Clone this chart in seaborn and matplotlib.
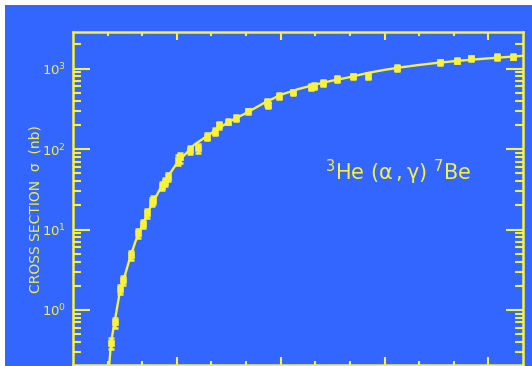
import matplotlib
matplotlib.use("Agg")
import matplotlib.pyplot as plt
import seaborn as sns
import pandas as pd
from matplotlib.ticker import FixedLocator, NullFormatter, LogLocator
from matplotlib.patches import Rectangle

# ---- data ----
energy = [0.109, 0.121, 0.136, 0.145, 0.167, 0.189, 0.201, 0.213, 0.227, 0.232,
          0.256, 0.266, 0.275, 0.304, 0.309, 0.338, 0.362, 0.386, 0.410, 0.423,
          0.449, 0.471, 0.506, 0.559, 0.564, 0.596, 0.636, 0.687, 0.696, 0.723,
          0.763, 0.808, 0.853, 0.937, 1.060, 1.110, 1.149, 1.226, 1.272]
sigma = [0.385, 0.70, 1.8, 2.36, 4.8, 9.0, 11.7, 15.9, 22.0, 23.3,
         34.8, 39.4, 45.5, 73.5, 79.0, 97.8, 102.0, 143.0, 165.0, 200.0,
         220.0, 242.0, 293.0, 380.0, 355.0, 459.0, 505.0, 589.0, 611.0, 661.0,
         740.0, 798.0, 813.0, 1014.0, 1191.0, 1259.0, 1336.0, 1390.0, 1413.0]
rel_err = [0.15, 0.14, 0.13, 0.13, 0.12, 0.12, 0.12, 0.12, 0.12, 0.12,
           0.12, 0.12, 0.12, 0.14, 0.14, 0.12, 0.12, 0.10, 0.10, 0.10,
           0.08, 0.08, 0.08, 0.09, 0.09, 0.08, 0.08, 0.08, 0.08, 0.08,
           0.08, 0.08, 0.09, 0.09, 0.08, 0.08, 0.08, 0.08, 0.08]

curve_e = [0.103, 0.11, 0.12, 0.135, 0.15, 0.165, 0.18, 0.20, 0.225, 0.25,
           0.275, 0.30, 0.35, 0.40, 0.45, 0.50, 0.55, 0.60, 0.65, 0.70,
           0.75, 0.80, 0.85, 0.90, 0.95, 1.00, 1.05, 1.10, 1.15, 1.20, 1.25, 1.30]
curve_s = [0.17, 0.40, 0.70, 1.65, 2.7, 4.5, 7.0, 11.4, 19.5, 31.0,
           46.0, 66.7, 113.0, 158.0, 218.0, 280.0, 370.0, 472.0, 555.0, 633.0,
           710.0, 784.0, 880.0, 965.0, 1040.0, 1110.0, 1175.0, 1235.0, 1290.0, 1340.0, 1390.0, 1440.0]

ytick_vals = [1, 10, 100, 1000]
ytick_labels = ["$10^{0}$", "$10^{1}$", "$10^{2}$", "$10^{3}$"]
ylabel = "CROSS SECTION  \u03c3  (nb)"
annot = r"$^{3}$He $(\alpha\,,\gamma)$ $^{7}$Be"

BLUE = "#3366FF"
YEL = "#F8F23C"

pts = pd.DataFrame({"E": energy, "sigma": sigma, "err": [s * r for s, r in zip(sigma, rel_err)]})
cur = pd.DataFrame({"E": curve_e, "sigma": curve_s})

sns.set_style("ticks")
plt.rcParams["font.family"] = ["DejaVu Sans"]
plt.rcParams["mathtext.fontset"] = "dejavusans"
plt.rcParams["mathtext.default"] = "regular"

fig = plt.figure(figsize=(5.32, 3.66), dpi=100, facecolor="white")
fig.patches.append(Rectangle((5 / 532, 0), 527 / 532, 361 / 366, transform=fig.transFigure,
                             facecolor=BLUE, edgecolor="none", zorder=-5))
ax = fig.add_axes([73 / 532, 1 / 366, 450 / 532, 333 / 366])
ax.set_facecolor(BLUE)

sns.lineplot(data=cur, x="E", y="sigma", ax=ax, color=YEL, linewidth=1.7, zorder=3)
ax.errorbar(pts["E"], pts["sigma"], yerr=pts["err"], fmt="none", ecolor=YEL,
            elinewidth=1.8, capsize=2.5, capthick=1.8, zorder=4)
sns.scatterplot(data=pts, x="E", y="sigma", ax=ax, color=YEL, marker="s", s=14,
                edgecolor=YEL, linewidth=0.5, zorder=5)

ax.set_yscale("log")
ax.set_xlim(0, 1.3)
ax.set_ylim(0.207, 2850)

for s in ax.spines.values():
    s.set_color(YEL)
    s.set_linewidth(1.8)

ax.xaxis.set_major_locator(FixedLocator([0.3, 0.6, 0.9, 1.2]))
ax.xaxis.set_minor_locator(FixedLocator([0.1, 0.2, 0.4, 0.5, 0.7, 0.8, 1.0, 1.1]))
ax.xaxis.set_major_formatter(NullFormatter())
ax.tick_params(axis="x", which="major", direction="in", length=6, width=1.5,
               color=YEL, top=True, bottom=True)
ax.tick_params(axis="x", which="minor", direction="in", length=3, width=1.5,
               color=YEL, top=True, bottom=True)

ax.yaxis.set_major_locator(FixedLocator(ytick_vals))
ax.set_yticklabels(ytick_labels)
ax.yaxis.set_minor_locator(LogLocator(base=10, subs=range(2, 10), numticks=20))
ax.yaxis.set_minor_formatter(NullFormatter())
ax.tick_params(axis="y", which="major", direction="in", length=12, width=1.5,
               color=YEL, left=True, right=True, labelcolor=YEL, labelsize=9.5, pad=5)
ax.tick_params(axis="y", which="minor", direction="in", length=6, width=1.5,
               color=YEL, left=True, right=True)

ax.set_xlabel("")
ax.set_ylabel("")
fig.text(36 / 532, 1 - 209 / 366, ylabel, rotation=90, ha="center", va="center",
         color=YEL, fontsize=10)
ax.text(0.728, 41, annot, ha="left", va="baseline", color=YEL, fontsize=15)

fig.savefig("out.png", dpi=100, facecolor="white")
